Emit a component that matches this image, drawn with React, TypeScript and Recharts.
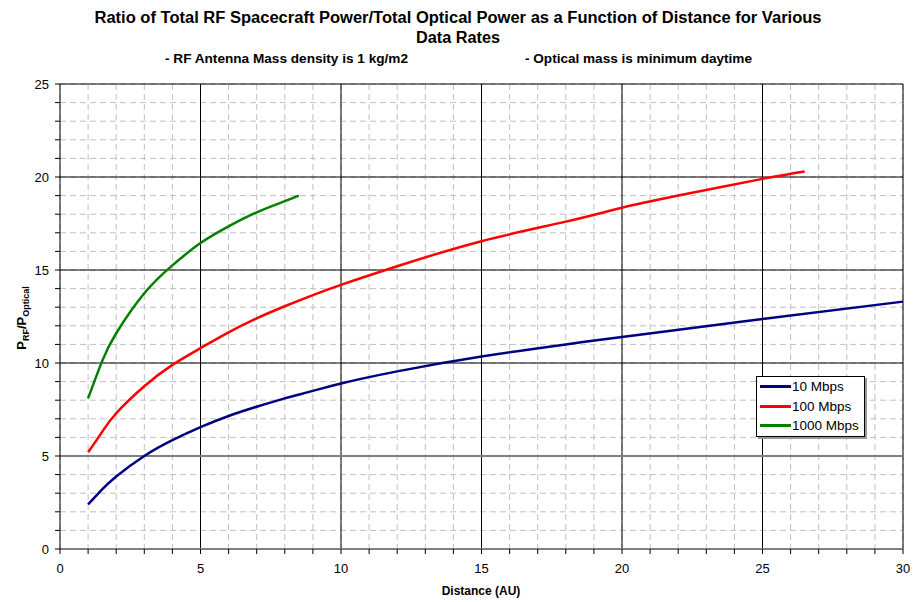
import { CartesianGrid, Line, LineChart, ReferenceLine, XAxis, YAxis } from "recharts";

const distance10 = [1, 1.5, 2, 3, 4, 5, 6, 7, 8, 9, 10, 12, 15, 18, 20, 25, 30];
const ratio10 = [2.4, 3.2, 3.9, 5.0, 5.85, 6.55, 7.15, 7.65, 8.1, 8.5, 8.9, 9.55, 10.35, 11.0, 11.4, 12.37, 13.3];

const distance100 = [1, 1.5, 2, 3, 4, 5, 6, 7, 8, 9, 10, 12, 15, 18, 20, 22, 25, 26.5];
const ratio100 = [5.2, 6.3, 7.3, 8.75, 9.9, 10.8, 11.65, 12.4, 13.05, 13.65, 14.2, 15.2, 16.55, 17.6, 18.35, 19.0, 19.9, 20.3];

const distance1000 = [1, 1.5, 2, 3, 4, 5, 6, 7, 8, 8.5];
const ratio1000 = [8.1, 10.1, 11.6, 13.75, 15.25, 16.45, 17.35, 18.1, 18.7, 19.0];

const xTicks = Array.from({ length: 31 }, (_, i) => i);
const yTicks = Array.from({ length: 26 }, (_, i) => i);
const xMajor = [5, 10, 15, 20, 25, 30];
const yMajor = [10, 15, 20, 25];

const series = [
  { name: "10 Mbps", color: "#000080", data: distance10.map((x, i) => ({ x, y: ratio10[i] })) },
  { name: "100 Mbps", color: "#ff0000", data: distance100.map((x, i) => ({ x, y: ratio100[i] })) },
  { name: "1000 Mbps", color: "#008000", data: distance1000.map((x, i) => ({ x, y: ratio1000[i] })) },
];

const font = "'Liberation Sans', Arial, sans-serif";

function LegendBox() {
  return (
    <div
      style={{
        position: "absolute",
        left: 756,
        top: 376,
        boxSizing: "border-box",
        width: 109,
        height: 61,
        background: "#fff",
        border: "1px solid #000",
        boxShadow: "2px 2px 0 #999",
        padding: "0 0 0 3px",
        fontFamily: font,
        fontSize: 13.5,
        color: "#000",
      }}
    >
      {series.map((s) => (
        <div key={s.name} style={{ display: "flex", alignItems: "center", height: 19.5 }}>
          <span style={{ display: "inline-block", width: 31, height: 3, background: s.color, marginRight: 1 }} />
          {s.name}
        </div>
      ))}
    </div>
  );
}

export default function App() {
  return (
    <div style={{ position: "absolute", left: 0, top: 0, width: 914, height: 602, background: "#fff", fontFamily: font }}>
      <LineChart width={914} height={602} margin={{ top: 84, right: 11, bottom: 23, left: 0 }}>
        <CartesianGrid stroke="#c0c0c0" strokeDasharray="6 4" />
        <XAxis
          type="number"
          dataKey="x"
          domain={[0, 30]}
          ticks={xTicks}
          interval={0}
          height={30}
          tickFormatter={(v: number) => (v % 5 === 0 ? String(v) : "")}
          tick={{ fill: "#000", fontSize: 13, fontFamily: font }}
          tickSize={5}
          tickMargin={10}
          axisLine={{ stroke: "#808080", strokeWidth: 2 }}
          tickLine={{ stroke: "#000" }}
          allowDuplicatedCategory={false}
        />
        <YAxis
          type="number"
          domain={[0, 25]}
          ticks={yTicks}
          interval={0}
          width={60}
          tickFormatter={(v: number) => (v % 5 === 0 ? String(v) : "")}
          tick={{ fill: "#000", fontSize: 13, fontFamily: font }}
          tickSize={5}
          tickMargin={6}
          axisLine={{ stroke: "#000" }}
          tickLine={{ stroke: "#000" }}
        />
        {xMajor.map((v) => (
          <ReferenceLine key={"x" + v} x={v} stroke="#000" strokeWidth={1} />
        ))}
        {yMajor.map((v) => (
          <ReferenceLine key={"y" + v} y={v} stroke="#000" strokeWidth={1} />
        ))}
        <ReferenceLine y={5} stroke="#808080" strokeWidth={2} />
        {series.map((s) => (
          <Line
            key={s.name}
            data={s.data}
            dataKey="y"
            name={s.name}
            type="natural"
            stroke={s.color}
            strokeWidth={2.5}
            dot={false}
            isAnimationActive={false}
          />
        ))}
      </LineChart>
      <LegendBox />
      <svg width={914} height={602} style={{ position: "absolute", left: 0, top: 0, pointerEvents: "none" }}>
        <text x={458} y={23} textAnchor="middle" fontFamily={font} fontWeight="bold" fontSize={16} textLength={727} lengthAdjust="spacingAndGlyphs">
          Ratio of Total RF Spacecraft Power/Total Optical Power as a Function of Distance for Various
        </text>
        <text x={458} y={43} textAnchor="middle" fontFamily={font} fontWeight="bold" fontSize={16} textLength={84} lengthAdjust="spacingAndGlyphs">
          Data Rates
        </text>
        <text x={165} y={63} fontFamily={font} fontWeight="bold" fontSize={12.5} textLength={243} lengthAdjust="spacingAndGlyphs">
          - RF Antenna Mass density is 1 kg/m2
        </text>
        <text x={525} y={63} fontFamily={font} fontWeight="bold" fontSize={12.5} textLength={227} lengthAdjust="spacingAndGlyphs">
          - Optical mass is minimum daytime
        </text>
        <text x={481} y={595} textAnchor="middle" fontFamily={font} fontWeight="bold" fontSize={12}>
          Distance (AU)
        </text>
        <text transform="translate(26, 318) rotate(-90)" textAnchor="middle" fontFamily={font} fontWeight="bold" fontSize={13}>
          P<tspan fontSize={9} dy={3}>RF</tspan>
          <tspan dy={-3}>/P</tspan>
          <tspan fontSize={9} dy={3}>Optical</tspan>
        </text>
      </svg>
    </div>
  );
}
